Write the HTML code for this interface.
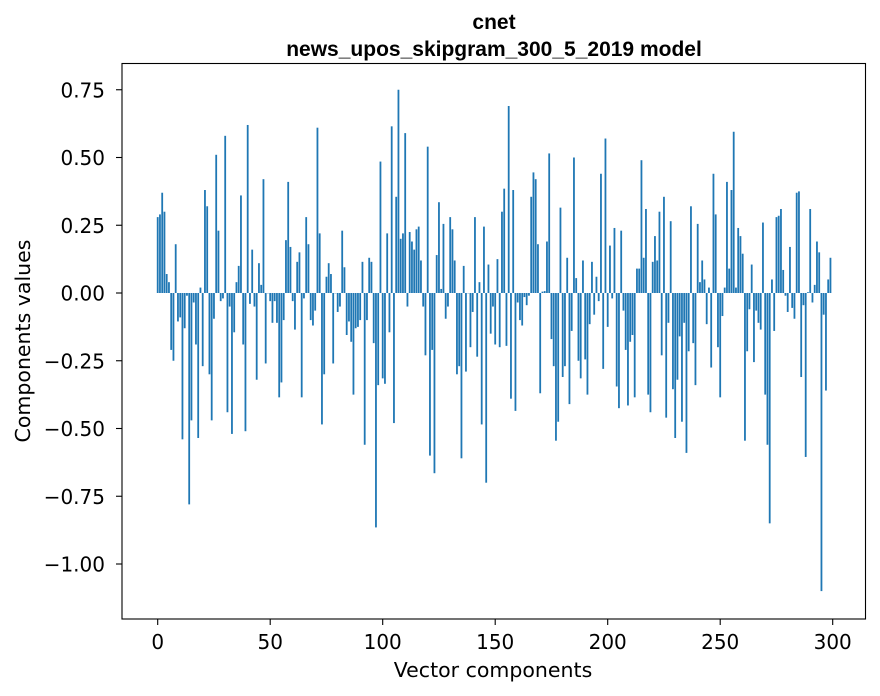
<!DOCTYPE html>
<html><head><meta charset="utf-8"><style>
html,body{margin:0;padding:0;background:#fff;}
svg{display:block;}
text{font-family:"DejaVu Sans","Liberation Sans",sans-serif;fill:#000;}
</style></head><body>
<svg id="chart" width="880" height="696" viewBox="0 0 880 696" xmlns="http://www.w3.org/2000/svg">
<rect x="0" y="0" width="880" height="696" fill="#fff"/>
<text x="494" y="29" text-anchor="middle" font-size="21" font-weight="bold" style="font-family:'Liberation Sans',sans-serif">cnet</text>
<text x="494" y="56" text-anchor="middle" font-size="21" font-weight="bold" style="font-family:'Liberation Sans',sans-serif">news_upos_skipgram_300_5_2019 model</text>
<g id="bars"></g>
<g id="xticks"></g>
<g id="yticks"></g>
<rect x="122" y="63.5" width="743.5" height="555.5" fill="none" stroke="#000" stroke-width="1.1"/>
<text x="493" y="677" text-anchor="middle" font-size="20.5">Vector components</text>
<text transform="translate(30,341) rotate(-90)" text-anchor="middle" font-size="20.5">Components values</text>
</svg>
<script>
const values = [0.28,0.29,0.37,0.30,0.07,0.04,-0.21,-0.25,0.18,-0.105,-0.09,-0.54,-0.13,-0.01,-0.78,-0.47,-0.035,-0.19,-0.535,0.02,-0.27,0.38,0.32,-0.30,-0.47,-0.095,0.51,0.23,-0.03,-0.02,0.58,-0.44,-0.05,-0.52,-0.145,0.04,0.10,0.36,-0.19,-0.51,0.62,-0.04,0.16,-0.05,-0.32,0.11,0.03,0.42,-0.26,0.00,
-0.03,-0.11,-0.03,-0.11,-0.385,-0.33,-0.10,0.195,0.41,0.17,-0.03,-0.135,0.115,0.15,-0.385,-0.02,0.28,0.18,-0.10,-0.12,-0.065,0.61,0.22,-0.485,-0.30,0.06,0.11,0.07,-0.26,0.00,-0.07,-0.05,0.23,0.095,-0.155,-0.105,-0.18,-0.375,-0.13,-0.125,-0.10,0.115,-0.56,-0.10,0.13,0.115,-0.185,-0.865,-0.34,0.485,
-0.315,-0.335,0.22,-0.145,0.615,-0.48,0.355,0.75,0.20,0.22,0.59,-0.05,0.225,0.19,0.16,0.235,0.245,0.12,-0.05,-0.23,0.54,-0.60,-0.21,-0.665,0.14,0.335,0.015,0.255,-0.095,-0.05,0.28,0.235,0.12,-0.30,-0.27,-0.61,0.10,-0.29,0.00,-0.20,-0.07,0.28,-0.235,0.04,-0.485,0.245,-0.70,0.105,-0.15,-0.05,
-0.19,0.125,-0.20,0.30,0.385,-0.195,0.69,-0.39,0.38,-0.435,-0.035,-0.10,-0.12,-0.015,-0.045,-0.01,0.355,0.445,0.42,0.18,-0.37,0.005,0.007,0.19,0.515,-0.17,-0.27,-0.545,-0.475,0.315,-0.31,-0.27,0.13,-0.41,-0.14,0.50,0.055,-0.25,-0.315,0.12,-0.245,-0.375,-0.115,0.115,-0.08,0.06,-0.03,0.44,-0.28,0.57,
-0.125,0.175,-0.02,0.24,-0.345,-0.425,0.23,-0.065,-0.21,-0.415,-0.18,-0.155,-0.385,0.09,0.09,0.49,0.13,0.31,-0.375,-0.44,0.115,0.21,0.12,0.30,-0.23,0.355,-0.46,-0.11,0.265,-0.355,-0.535,-0.32,-0.16,-0.475,-0.11,-0.59,-0.215,0.32,-0.185,-0.34,0.255,0.04,0.12,0.05,-0.115,0.02,-0.275,0.44,0.29,-0.20,
-0.385,-0.085,0.02,0.41,0.09,0.38,0.595,0.02,0.24,0.21,0.145,-0.545,-0.215,-0.06,0.105,-0.255,-0.065,-0.11,-0.135,0.26,-0.375,-0.56,-0.85,0.05,-0.14,0.28,0.285,0.31,0.085,-0.01,-0.07,0.17,-0.055,-0.095,0.37,0.375,-0.31,-0.045,-0.605,0.003,0.31,-0.035,0.03,0.19,0.15,-1.10,-0.08,-0.36,0.05,0.13];
const xTickValues = [0,50,100,150,200,250,300];
const yTickValues = [0.75,0.50,0.25,0.00,-0.25,-0.50,-0.75,-1.00];
const yTickLabels = ["0.75","0.50","0.25","0.00","\u22120.25","\u22120.50","\u22120.75","\u22121.00"];

const NS = "http://www.w3.org/2000/svg";
function xScale(i){ return 157.7 + i * 2.25; }
function yScale(v){ return 293 - v * 271; }
const barW = 0.8 * 2.25;
const bars = document.getElementById('bars');
values.forEach(function(v, i){
  const r = document.createElementNS(NS, 'rect');
  const y0 = yScale(0), y1 = yScale(v);
  r.setAttribute('x', xScale(i) - barW/2);
  r.setAttribute('y', Math.min(y0, y1));
  r.setAttribute('width', barW);
  r.setAttribute('height', Math.max(Math.abs(y1 - y0), 0.3));
  r.setAttribute('fill', '#1f77b4');
  
  
  bars.appendChild(r);
});
const xt = document.getElementById('xticks');
xTickValues.forEach(function(t){
  const x = xScale(t);
  const l = document.createElementNS(NS, 'line');
  l.setAttribute('x1', x); l.setAttribute('x2', x);
  l.setAttribute('y1', 619); l.setAttribute('y2', 625);
  l.setAttribute('stroke', '#000'); l.setAttribute('stroke-width', '1.1');
  
  
  xt.appendChild(l);
  const tx = document.createElementNS(NS, 'text');
  tx.setAttribute('x', x); tx.setAttribute('y', 649);
  tx.setAttribute('text-anchor', 'middle'); tx.setAttribute('font-size', '20');
  tx.textContent = String(t);
  
  
  xt.appendChild(tx);
});
const yt = document.getElementById('yticks');
yTickValues.forEach(function(t, k){
  const y = yScale(t);
  const l = document.createElementNS(NS, 'line');
  l.setAttribute('x1', 116); l.setAttribute('x2', 122);
  l.setAttribute('y1', y); l.setAttribute('y2', y);
  l.setAttribute('stroke', '#000'); l.setAttribute('stroke-width', '1.1');
  
  
  yt.appendChild(l);
  const tx = document.createElementNS(NS, 'text');
  tx.setAttribute('x', 105); tx.setAttribute('y', y + 7.5);
  tx.setAttribute('text-anchor', 'end'); tx.setAttribute('font-size', '20');
  tx.textContent = yTickLabels[k];
  
  
  yt.appendChild(tx);
});
</script>
</body></html>
